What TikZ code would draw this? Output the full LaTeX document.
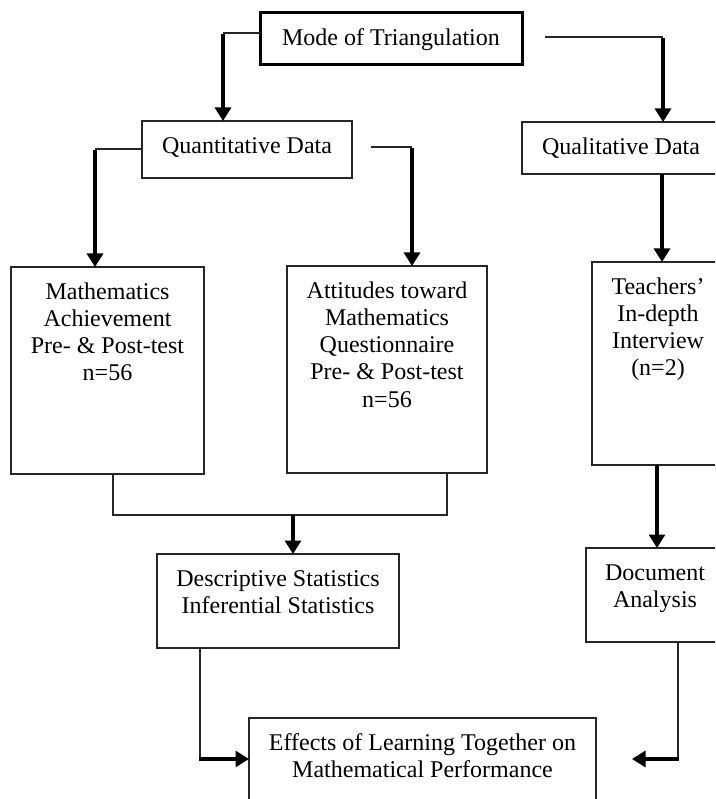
\documentclass[tikz,border=0pt]{standalone}
\usepackage{fontspec}
\setmainfont{Liberation Serif}
\usetikzlibrary{arrows.meta,calc}
\newcommand\boxtxt[3]{\parbox[t][#2][t]{#1}{\centering\vspace*{12.9pt}\strut #3\par}}
\tikzset{
  box/.style={draw=black!85, line width=1.6pt, inner sep=0pt, outer sep=0pt, anchor=north west,
              font=\fontsize{24}{27.3}\selectfont},
  thinline/.style={line width=1.8pt, draw=black!85},
  arr/.style={line width=3.1pt, -{Triangle[width=16pt,length=13.5pt]}},
}
\begin{document}
\begin{tikzpicture}[x=1pt,y=-1pt]
\useasboundingbox (0,0) rectangle (715,799);
\clip (0,0) rectangle (715,799);
\fill[white] (0,0) rectangle (715,799);

% boxes
\node[box, line width=3pt, draw=black] (mode) at (260,13) {\boxtxt{262pt}{52pt}{Mode of Triangulation}};
\node[box] (quant) at (142,121) {\boxtxt{210pt}{57pt}{Quantitative Data}};
\node[box] (qual)  at (522,122) {\boxtxt{198pt}{52pt}{Qualitative Data}};
\node[box] (math)  at (11,267)  {\boxtxt{193pt}{207pt}{Mathematics\\Achievement\\Pre- \& Post-test\\n=56}};
\node[box] (att)   at (287,266) {\boxtxt{200pt}{207pt}{Attitudes toward\\Mathematics\\Questionnaire\\Pre- \& Post-test\\n=56}};
\node[box] (teach) at (592,262) {\boxtxt{132pt}{203pt}{Teachers'\\In-depth\\Interview\\(n=2)}};
\node[box] (desc)  at (157,554) {\boxtxt{242pt}{94pt}{Descriptive Statistics\\Inferential Statistics}};
\node[box] (doc)   at (586,548) {\boxtxt{138pt}{94pt}{Document\\Analysis}};
\node[box] (eff)   at (249,718) {\boxtxt{347pt}{100pt}{Effects of Learning Together on\\Mathematical Performance}};

% corner / free-end coordinates
\coordinate (c1) at (223,33);
\coordinate (s2) at (545,37);
\coordinate (c2) at (663,37);
\coordinate (c3) at (95,149);
\coordinate (s4) at (371,147);
\coordinate (c4) at (412,147);
\coordinate (c5) at (662,0);
\coordinate (j1) at (113,515);
\coordinate (j2) at (447,515);
\coordinate (jm) at (293,515);
\coordinate (c7) at (657,0);
\coordinate (c8) at (200,759);
\coordinate (c9) at (678,759);
\coordinate (e9) at (632,759);

% Mode -> Quantitative
\draw[thinline] (mode.west |- c1) -- (c1);
\draw[arr] ([yshift=-0.9pt]c1) -- (c1 |- quant.north);
% Mode -> Qualitative
\draw[thinline] (s2) -- (c2);
\draw[arr] ([yshift=-0.9pt]c2) -- (c2 |- qual.north);
% Quantitative -> Mathematics
\draw[thinline] (quant.west |- c3) -- (c3);
\draw[arr] ([yshift=-0.9pt]c3) -- (c3 |- math.north);
% Quantitative -> Attitudes
\draw[thinline] (s4) -- (c4);
\draw[arr] ([yshift=-0.9pt]c4) -- (c4 |- att.north);
% Qualitative -> Teachers
\draw[arr] (c5 |- qual.south) -- (c5 |- teach.north);
% Math & Attitudes -> Descriptive
\draw[thinline, line join=miter] (j1 |- math.south) -- (j1) -- (j2) -- (j2 |- att.south);
\draw[arr] (jm) -- (jm |- desc.north);
% Teachers -> Document
\draw[arr] (c7 |- teach.south) -- (c7 |- doc.north);
% Descriptive -> Effects
\draw[thinline] (c8 |- desc.south) -- ([yshift=0.9pt]c8);
\draw[arr] ([xshift=-0.9pt]c8) -- (eff.west |- c8);
% Document -> Effects
\draw[thinline] (c9 |- doc.south) -- ([yshift=0.9pt]c9);
\draw[arr] ([xshift=0.9pt]c9) -- (e9);
\end{tikzpicture}
\end{document}
